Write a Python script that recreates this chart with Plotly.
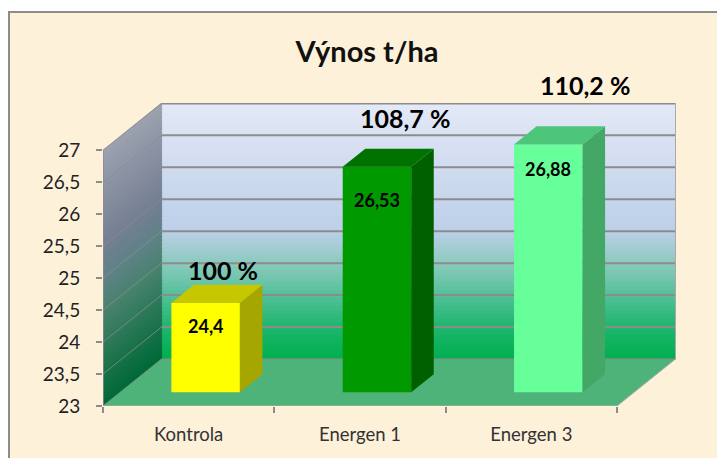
import plotly.graph_objects as go

# ---- data ----
categories = ["Kontrola", "Energen 1", "Energen 3"]
yields = [24.4, 26.53, 26.88]
value_labels = ["24,4", "26,53", "26,88"]
percent_labels = ["100 %", "108,7 %", "110,2 %"]
y_ticks = [23, 23.5, 24, 24.5, 25, 25.5, 26, 26.5, 27]
y_ticktext = ["23", "23,5", "24", "24,5", "25", "25,5", "26", "26,5", "27"]
title_text = "Výnos t/ha"

# ---- style ----
W, H = 717, 458
L, R, T, B = 103, 676, 103, 406       # plot rectangle in page pixels
PX_CAT = (617 - 103) / 3              # pixels per category
PX_VAL = 63.9                         # pixels per yield unit
X_MAX = (R - L) / PX_CAT
Y_MIN = y_ticks[0]
Y_MAX = Y_MIN + (B - T) / PX_VAL
DEPTH_X = 58.5 / PX_CAT               # oblique projection of full depth
DEPTH_Y = 47.0 / PX_VAL
BAR_W = 68.5 / PX_CAT
BAR_D0, BAR_D1 = 0.29, 0.675
GRID = "#8c8c8c"
FONT = "Lato"
front_colors = ["#ffff00", "#009900", "#66ff99"]
side_colors = ["#a6a600", "#006000", "#43a766"]
top_colors = ["#c7c700", "#007200", "#4dc679"]
back_stops = [(0.0, "#e4e9f6"), (0.5, "#bccfe9"), (0.625, "#8ccabf"),
              (0.75, "#55c09a"), (0.875, "#1fb66d"), (1.0, "#00af50")]
side_stops = [(0.0, "#9ca2af"), (0.375, "#747f93"), (0.5, "#5f8288"),
              (0.625, "#4b8270"), (0.75, "#317b5d"), (0.875, "#187149"),
              (1.0, "#006a38")]


def proj(x, v, d):
    """Oblique projection: position on the category/value axes at depth d (0 front, 1 back)."""
    return x + d * DEPTH_X, v + d * DEPTH_Y


def mix(stops, t):
    for (t0, c0), (t1, c1) in zip(stops, stops[1:]):
        if t <= t1:
            f = (t - t0) / (t1 - t0)
            a = [int(c0[i:i + 2], 16) for i in (1, 3, 5)]
            b = [int(c1[i:i + 2], 16) for i in (1, 3, 5)]
            return "rgb(%d,%d,%d)" % tuple(round(p + (q - p) * f) for p, q in zip(a, b))
    return stops[-1][1]


def poly(points, fill, line=None, width=0, xaxis="x", yaxis="y"):
    xs = [p[0] for p in points] + [points[0][0]]
    ys = [p[1] for p in points] + [points[0][1]]
    return go.Scatter(x=xs, y=ys, mode="lines", fill="toself", fillcolor=fill,
                      line=dict(color=line or fill, width=width), hoverinfo="skip",
                      showlegend=False, cliponaxis=False, xaxis=xaxis, yaxis=yaxis)


def path(points, color, width):
    return go.Scatter(x=[p[0] for p in points], y=[p[1] for p in points], mode="lines",
                      line=dict(color=color, width=width), hoverinfo="skip",
                      showlegend=False, cliponaxis=False)


fig = go.Figure()
n_cat = len(categories)
v0, v1 = y_ticks[0], y_ticks[-1]
N = 64
step = (v1 - v0) / N

# back wall and left wall, thin slices so the gradient follows the skew
for i in range(N):
    a, b = v1 - i * step, v1 - (i + 1) * step
    t = (i + 0.5) / N
    fig.add_trace(poly([proj(0, a, 1), proj(n_cat, a, 1), proj(n_cat, b, 1), proj(0, b, 1)],
                       mix(back_stops, t), width=1.2))
    fig.add_trace(poly([proj(0, a, 0), proj(0, a, 1), proj(0, b, 1), proj(0, b, 0)],
                       mix(side_stops, t), width=1.2))

# floor
fig.add_trace(poly([proj(0, v0, 0), proj(0, v0, 1), proj(n_cat, v0, 1), proj(n_cat, v0, 0)],
                   "#4db378"))

# gridlines
for v in y_ticks:
    fig.add_trace(path([proj(0, v, 0), proj(0, v, 1)], "rgba(140,140,140,0.8)", 1))
    fig.add_trace(path([proj(0, v, 1), proj(n_cat, v, 1)], GRID, 2 if v > v0 else 1))

# wall, floor and axis edges
fig.add_trace(path([proj(0, v0, 0), proj(0, v1, 0)], GRID, 1.5))
fig.add_trace(path([proj(n_cat, v1, 1), proj(n_cat, v0, 1), proj(n_cat, v0, 0)],
                   "#a9a9a9", 1))
fig.add_trace(path([proj(0, v0, 0), proj(n_cat, v0, 0)], "#b5b0a5", 1))

# bars: the front faces, on an overlaid pair of axes so they sit above the walls
centers = [i + 0.5 + BAR_D0 * DEPTH_X for i in range(n_cat)]
base = v0 + BAR_D0 * DEPTH_Y
fig.add_trace(go.Bar(x=centers, y=[v - v0 for v in yields], base=base, width=BAR_W,
                     marker=dict(color=front_colors, line=dict(width=0)),
                     hoverinfo="skip", showlegend=False, xaxis="x2", yaxis="y2"))
for i, v in enumerate(yields):
    x0 = i + 0.5 - BAR_W / 2
    x1 = i + 0.5 + BAR_W / 2
    fig.add_trace(poly([proj(x1, v0, BAR_D0), proj(x1, v0, BAR_D1),
                        proj(x1, v, BAR_D1), proj(x1, v, BAR_D0)],
                       side_colors[i], xaxis="x2", yaxis="y2"))
    fig.add_trace(poly([proj(x0, v, BAR_D0), proj(x0, v, BAR_D1),
                        proj(x1, v, BAR_D1), proj(x1, v, BAR_D0)],
                       top_colors[i], xaxis="x2", yaxis="y2"))


def px_x(p):
    return (p - L) / (R - L)


def px_y(p):
    return (B - p) / (B - T)


# text placed by hand in the original chart
pct_pos = [(223, 270), (405, 118), (585, 85)]
val_drop = [23, 33, 24.5]
annotations = []
for i, txt in enumerate(percent_labels):
    annotations.append(dict(text="<b>%s</b>" % txt, x=px_x(pct_pos[i][0]), y=px_y(pct_pos[i][1]),
                            xref="paper", yref="paper", showarrow=False,
                            xanchor="center", yanchor="middle",
                            font=dict(family=FONT, size=25, color="#000000")))
for i, txt in enumerate(value_labels):
    annotations.append(dict(text="<b>%s</b>" % txt, x=centers[i], y=base + yields[i] - v0,
                            xref="x2", yref="y2", yshift=-val_drop[i], showarrow=False,
                            xanchor="center", yanchor="middle",
                            font=dict(family=FONT, size=18, color="#000000")))

fig.update_layout(
    width=W, height=H, autosize=False,
    margin=dict(l=L, r=W - R, t=T, b=H - B, pad=0),
    paper_bgcolor="#ffffff", plot_bgcolor="rgba(0,0,0,0)",
    showlegend=False, barmode="overlay",
    title=dict(text="<b>%s</b>" % title_text, x=367 / W, y=1 - 52 / H, xanchor="center",
               yanchor="middle", xref="container", yref="container",
               font=dict(family=FONT, size=29, color="#111111")),
    annotations=annotations,
    shapes=[dict(type="rect", xref="paper", yref="paper", layer="below",
                 x0=px_x(9), x1=px_x(730), y0=px_y(470), y1=px_y(12),
                 fillcolor="#fdf1da", line=dict(color=GRID, width=2))],
    xaxis=dict(range=[0, X_MAX], tickmode="array", tickvals=[i + 0.5 for i in range(n_cat)],
               ticktext=categories, ticks="", showgrid=False, zeroline=False, showline=False,
               ticklabelstandoff=15, tickfont=dict(family=FONT, size=18.5, color="#333333"),
               minor=dict(ticks="outside", tick0=0, dtick=1, ticklen=6, tickwidth=1.5,
                          tickcolor=GRID, showgrid=False)),
    yaxis=dict(range=[Y_MIN, Y_MAX], tickmode="array", tickvals=y_ticks, ticktext=y_ticktext,
               ticks="outside", ticklen=6, tickwidth=1.5, tickcolor=GRID, showgrid=False,
               zeroline=False, showline=False, ticklabelstandoff=12,
               tickfont=dict(family=FONT, size=19, color="#222222")),
    xaxis2=dict(range=[0, X_MAX], overlaying="x", visible=False),
    yaxis2=dict(range=[Y_MIN, Y_MAX], overlaying="y", visible=False),
)

fig.write_html("out.html", config=dict(displayModeBar=False),
               post_script="document.body.style.margin='0';document.body.style.overflow='hidden';")
